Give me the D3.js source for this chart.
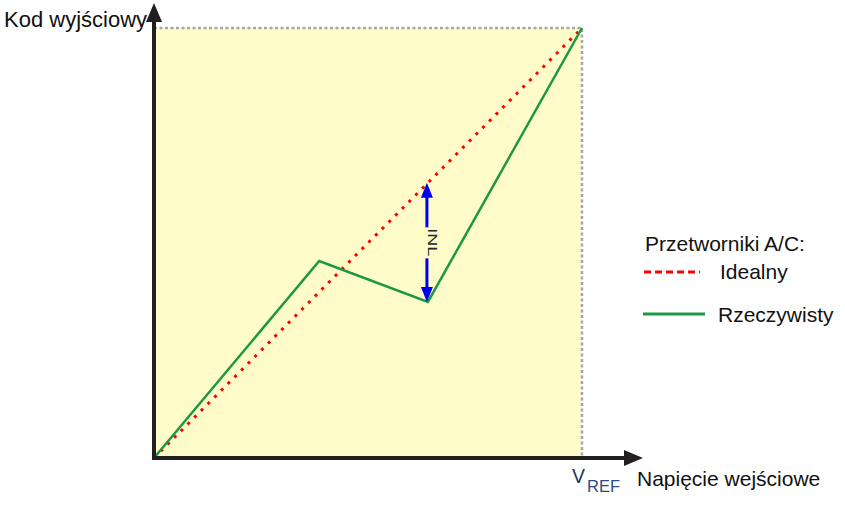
<!DOCTYPE html>
<html>
<head>
<meta charset="utf-8">
<script src="https://cdn.jsdelivr.net/npm/d3@7"></script>
<style>
  body { margin: 0; background: #fff; }
  svg text { font-family: "Liberation Sans", Arial, sans-serif; }
</style>
</head>
<body>
<div id="chart"></div>
<script>
// input as a fraction of V_REF, output code as a fraction of full scale
const idealPoints = [[0, 0], [1, 1]];
const realPoints = [[0, 0], [0.386, 0.458], [0.64, 0.363], [1, 1]];
const inlAt = 0.64;
const legendTitle = "Przetworniki A/C:";
const legendItems = ["Idealny", "Rzeczywisty"];
const yTitle = "Kod wyjściowy";
const xTitle = "Napięcie wejściowe";

const width = 845, height = 509;
const svg = d3.select("#chart").append("svg")
    .attr("width", width).attr("height", height);

const x = d3.scaleLinear().domain([0, 1]).range([154, 582]);
const y = d3.scaleLinear().domain([0, 1]).range([458, 28]);

// plot area
svg.append("rect")
    .attr("x", x(0)).attr("y", y(1))
    .attr("width", x(1) - x(0)).attr("height", y(0) - y(1))
    .attr("fill", "#fffcca");

// dotted limits at full scale
svg.append("path")
    .attr("d", `M${x(0)},${y(1)}H${x(1)}V${y(0)}`)
    .attr("fill", "none")
    .attr("stroke", "#a6a6a6")
    .attr("stroke-width", 2.5)
    .attr("stroke-dasharray", "3,2.5");

const line = d3.line().x(d => x(d[0])).y(d => y(d[1]));

svg.append("path")
    .attr("d", line(idealPoints))
    .attr("fill", "none")
    .attr("stroke", "#ff0000")
    .attr("stroke-width", 3)
    .attr("stroke-dasharray", "3,6.5");

svg.append("path")
    .attr("d", line(realPoints))
    .attr("fill", "none")
    .attr("stroke", "#1b9940")
    .attr("stroke-width", 2.5)
    .attr("stroke-linejoin", "miter");

// INL arrow
const realAt = d3.scaleLinear().domain(realPoints.map(d => d[0])).range(realPoints.map(d => d[1]))(inlAt);
const ax = x(inlAt) - 1, yTop = y(inlAt), yBot = y(realAt);
const mid = (yTop + yBot) / 2;
svg.append("line")
    .attr("x1", ax).attr("x2", ax)
    .attr("y1", yTop + 10).attr("y2", mid - 15)
    .attr("stroke", "#0000ee").attr("stroke-width", 3);
svg.append("line")
    .attr("x1", ax).attr("x2", ax)
    .attr("y1", mid + 16).attr("y2", yBot - 10)
    .attr("stroke", "#0000ee").attr("stroke-width", 3);
svg.append("path")
    .attr("d", `M${ax},${yTop}L${ax - 6},${yTop + 15}L${ax + 6},${yTop + 15}Z`)
    .attr("fill", "#0000ee");
svg.append("path")
    .attr("d", `M${ax},${yBot}L${ax - 6},${yBot - 15}L${ax + 6},${yBot - 15}Z`)
    .attr("fill", "#0000ee");
svg.append("text")
    .attr("transform", `translate(${ax + 1.5},${mid}) rotate(90) scale(1,0.75)`)
    .attr("text-anchor", "middle")
    .attr("font-size", 18)
    .attr("fill", "#222")
    .text("INL");

// axes with arrowheads
svg.append("line")
    .attr("x1", x(0)).attr("x2", x(0))
    .attr("y1", y(0) + 2).attr("y2", 20)
    .attr("stroke", "#231f20").attr("stroke-width", 4);
svg.append("path")
    .attr("d", `M${x(0)},3L${x(0) - 8},22L${x(0) + 8},22Z`)
    .attr("fill", "#231f20");
svg.append("line")
    .attr("x1", x(0) - 2).attr("x2", 626)
    .attr("y1", y(0)).attr("y2", y(0))
    .attr("stroke", "#231f20").attr("stroke-width", 4);
svg.append("path")
    .attr("d", `M643,${y(0)}L624,${y(0) - 8}L624,${y(0) + 8}Z`)
    .attr("fill", "#231f20");

// axis titles
svg.append("text")
    .attr("x", 4).attr("y", 27)
    .attr("font-size", 22).attr("fill", "#111")
    .text(yTitle);
svg.append("text")
    .attr("x", 637).attr("y", 486)
    .attr("font-size", 21).attr("fill", "#111")
    .text(xTitle);

const vref = svg.append("text")
    .attr("x", x(1) - 10).attr("y", 483)
    .attr("font-size", 19.5).attr("fill", "#22355e");
vref.append("tspan").text("V");
vref.append("tspan").attr("dx", 2).attr("dy", 9).attr("font-size", 16.5)
    .attr("fill", "#2b4a85").text("REF");

// legend
svg.append("text")
    .attr("x", 645).attr("y", 251)
    .attr("font-size", 21).attr("fill", "#111")
    .text(legendTitle);
svg.append("line")
    .attr("x1", 644).attr("x2", 700)
    .attr("y1", 272).attr("y2", 272)
    .attr("stroke", "#ff0000").attr("stroke-width", 3)
    .attr("stroke-dasharray", "7,4");
svg.append("text")
    .attr("x", 720).attr("y", 279)
    .attr("font-size", 21).attr("fill", "#111")
    .text(legendItems[0]);
svg.append("line")
    .attr("x1", 643).attr("x2", 705)
    .attr("y1", 314).attr("y2", 314)
    .attr("stroke", "#1b9940").attr("stroke-width", 3);
svg.append("text")
    .attr("x", 718).attr("y", 322)
    .attr("font-size", 21).attr("fill", "#111")
    .text(legendItems[1]);
</script>
</body>
</html>
